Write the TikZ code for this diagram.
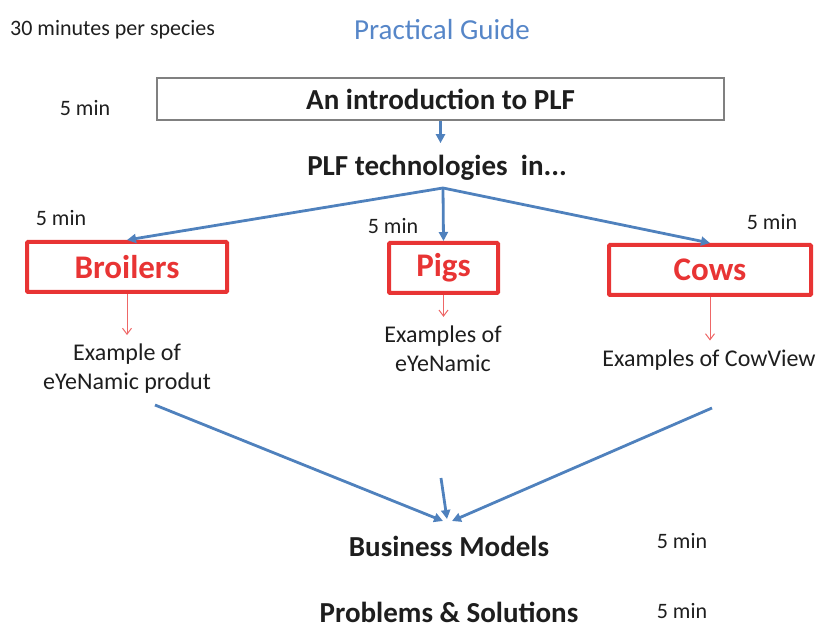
\documentclass[tikz,border=0pt]{standalone}
\usepackage{fontspec}
\setmainfont{Carlito}
\usepackage{xcolor}
\usetikzlibrary{arrows.meta}

\definecolor{guideblue}{RGB}{79,129,189}
\definecolor{titleblue}{RGB}{86,134,200}
\definecolor{speciesred}{RGB}{232,52,52}
\definecolor{textgray}{RGB}{30,30,30}

\begin{document}
\begin{tikzpicture}[
        x = 1pt, y = -1pt, % one unit per pixel of the slide
        every node/.style = {text=textgray, inner sep=0pt},
        minlabel/.style = {font=\fontsize{22}{26}\selectfont},
        heading/.style = {font=\fontsize{29}{34}\selectfont\bfseries},
        species/.style = {draw=speciesred, line width=4pt, minimum height=50pt,
            rounded corners=1pt, text=speciesred,
            font=\fontsize{33}{38}\selectfont\bfseries},
        example/.style = {font=\fontsize{24}{29}\selectfont, align=center},
        flow/.style = {draw=guideblue, line width=2.8pt,
            -{Triangle[length=9pt,width=9pt]}}, % blue connectors
        sub/.style = {draw=speciesred!75, line width=1pt, shorten >=9pt,
            -{Straight Barb[length=6pt,width=9pt]}}, % thin red connectors
    ]
        \useasboundingbox (0,0) rectangle (819,628);

        % Draw the titles
        \node[minlabel, anchor=west] (perspecies) at (10,30) {30 minutes per species};
        \node[text=titleblue, font=\fontsize{29}{34}\selectfont] (guide) at (442,30) {Practical Guide};

        % Draw the headings
        \node[heading, draw=black!50, line width=1.2pt, minimum width=567pt,
            minimum height=42pt] (intro) at (440.5,99) {An introduction to PLF};
        \node[heading] (plf) at (437,168) {PLF technologies~ in...};
        \node[heading] (business) at (449,546) {Business Models};
        \node[heading] (problems) at (449,612) {Problems \& Solutions};

        % Draw the time labels
        \foreach \pos/\i in {
            (85,108)/minIntro,
            (61,218)/minBroilers,
            (393,226)/minPigs,
            (772,222)/minCows,
            (682,541)/minBusiness,
            (682,611)/minProblems} {
            \node[minlabel] (\i) at \pos {5 min};
        }

        % Draw the species
        \foreach \pos/\w/\i/\txt in {
            (127,267)/200/broilers/Broilers,
            (443.5,268)/109/pigs/Pigs,
            (710,270)/202/cows/Cows} {
            \node[species, minimum width=\w pt] (\i) at \pos {\txt};
        }

        % Draw the examples
        \node[example] (broilersEx) at (127,369) {Example of\\eYeNamic produt};
        \node[example] (pigsEx) at (443,349) {Examples of\\eYeNamic};
        \node[example] (cowsEx) at (709,360) {Examples of CowView};

        % Free ends of the connectors
        \coordinate (fork) at (443,188);
        \coordinate (broilersOut) at (155,405);
        \coordinate (pigsOut) at (441,478);
        \coordinate (cowsOut) at (712,408);
        \coordinate (broilersIn) at (443,521);
        \coordinate (pigsIn) at (447,519);
        \coordinate (cowsIn) at (452,521);

        % Draw the edges
        \draw[flow, shorten >=12pt] (intro) -- (intro |- plf.north);
        \foreach \e in {broilers, pigs, cows} {
            \draw[flow] (fork) -- (\e.north);
            \draw[sub] (\e.south) -- (\e.south |- \e Ex.north);
            \draw[flow] (\e Out) -- (\e In);
        }
    \end{tikzpicture}
\end{document}
